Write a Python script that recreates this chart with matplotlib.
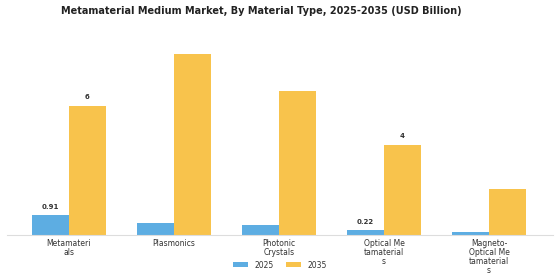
import matplotlib
matplotlib.use("Agg")
import matplotlib.pyplot as plt
import numpy as np

categories = ["Metamateri\nals", "Plasmonics", "Photonic\nCrystals",
              "Optical Me\ntamaterial\ns", "Magneto-\nOptical Me\ntamaterial\ns"]
years = ["2025", "2035"]
values_2025 = [0.91, 0.56, 0.47, 0.22, 0.15]
values_2035 = [6.0, 8.44, 6.7, 4.2, 2.16]
labels_2025 = {0: "0.91", 3: "0.22"}
labels_2035 = {0: "6", 3: "4"}

colors = ["#5DADE2", "#F8C34C"]

fig = plt.figure(figsize=(5.6, 2.8), dpi=100)
ax = fig.add_axes([7/560, 45/280, 546/560, 195/280])

x = np.arange(len(categories))
w = 0.35
b1 = ax.bar(x - w/2, values_2025, w, color=colors[0], label=years[0])
b2 = ax.bar(x + w/2, values_2035, w, color=colors[1], label=years[1])

for i, t in labels_2025.items():
    ax.annotate(t, (x[i] - w/2, values_2025[i]), xytext=(0, 4), textcoords="offset points",
                ha="center", va="bottom", fontsize=5, fontweight="bold", color="#333333")
for i, t in labels_2035.items():
    ax.annotate(t, (x[i] + w/2, values_2035[i]), xytext=(0, 4), textcoords="offset points",
                ha="center", va="bottom", fontsize=5, fontweight="bold", color="#333333")

ax.set_xlim(-0.59, 4.61)
ax.set_ylim(0, 9.07)
ax.set_xticks(x)
ax.set_xticklabels(categories, fontsize=5.5, color="#333333", linespacing=1.0)
ax.tick_params(axis="x", length=0, pad=3)
ax.set_yticks([])
for s in ["top", "right", "left"]:
    ax.spines[s].set_visible(False)
ax.spines["bottom"].set_color("#dddddd")
ax.spines["bottom"].set_linewidth(0.8)

fig.text(0.467, 1 - 11/280, "Metamaterial Medium Market, By Material Type, 2025-2035 (USD Billion)",
         ha="center", va="center", fontsize=7, fontweight="bold", color="#222222")

fig.legend(handles=[b1, b2], labels=years, loc="center", bbox_to_anchor=(0.5, 15/280),
           ncol=2, frameon=False, fontsize=5.5, handlelength=2.0, handleheight=0.6,
           columnspacing=1.6, labelcolor="#333333")

fig.savefig("out.png", dpi=100, facecolor="white")
